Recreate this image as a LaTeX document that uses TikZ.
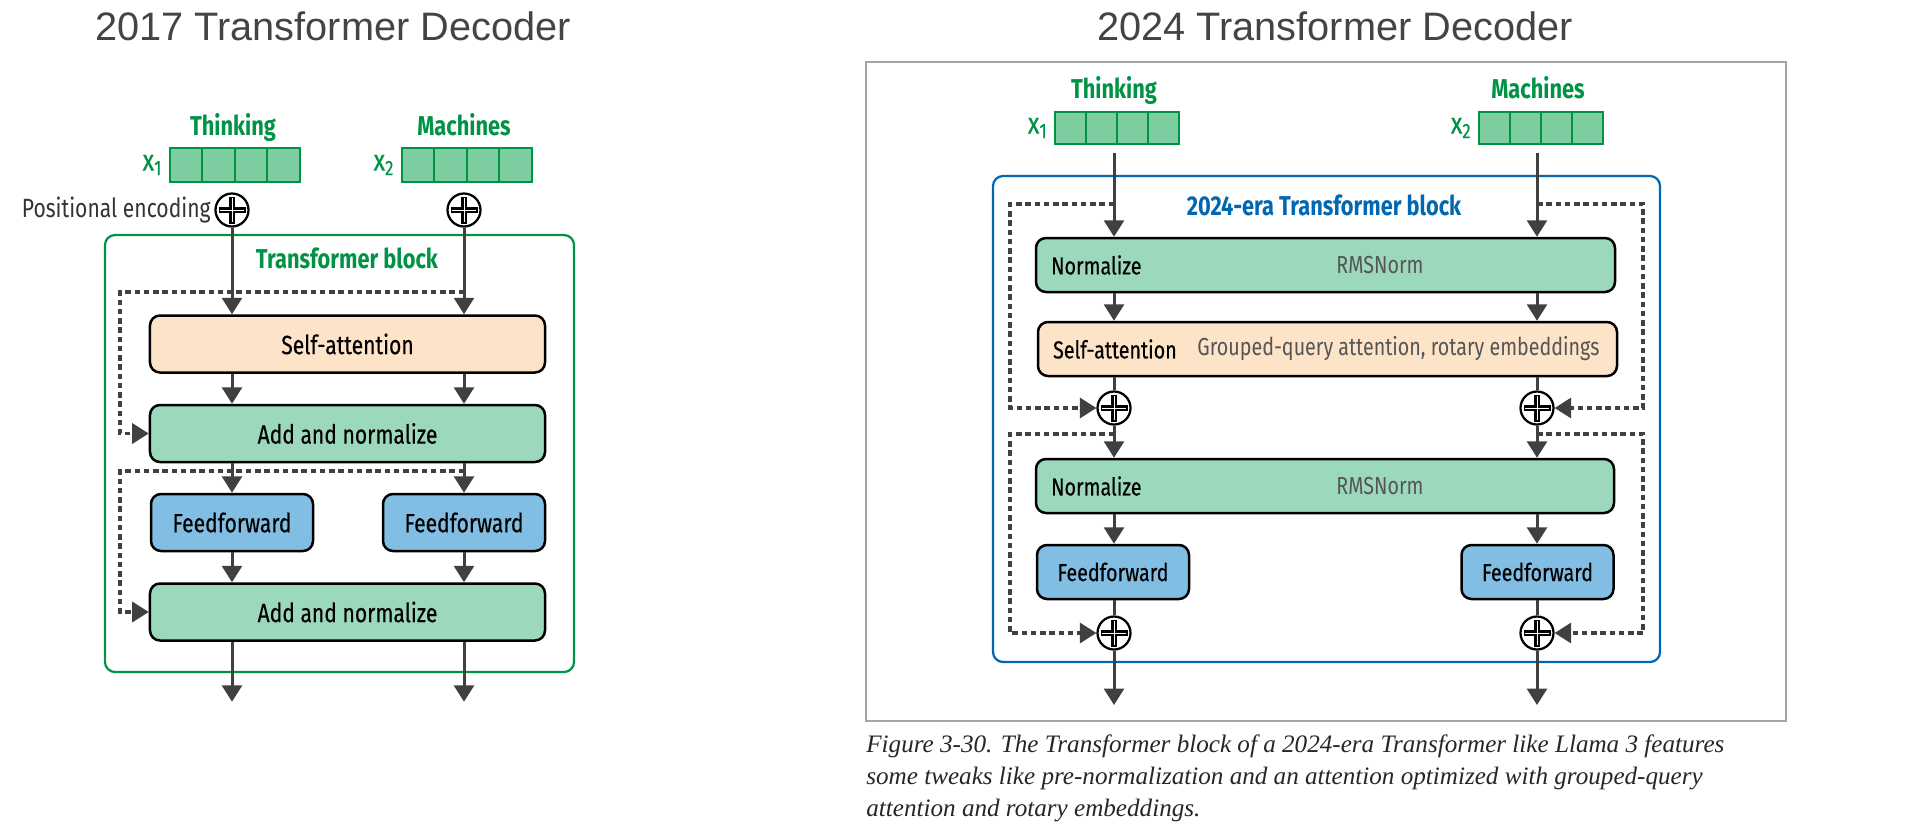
\documentclass[tikz,border=0pt]{standalone}
\usepackage{fontspec}
\usepackage{tikz}
\usetikzlibrary{arrows.meta, positioning, calc}
\newfontfamily\diafont{Fira Sans}[FakeStretch=0.8, FakeBold=0.35]
\newfontfamily\diaplain{Fira Sans}[FakeStretch=0.8]
\newfontfamily\titlefont{Liberation Sans}
\newfontfamily\capfont{Liberation Serif}
\definecolor{ogreen}{RGB}{0,146,69}
\definecolor{vecfill}{RGB}{126,205,160}
\definecolor{normfill}{RGB}{156,217,188}
\definecolor{attnfill}{RGB}{253,227,200}
\definecolor{fffill}{RGB}{130,190,228}
\definecolor{oblue}{RGB}{0,104,178}
\definecolor{arrgray}{RGB}{64,64,64}
\definecolor{titlegray}{RGB}{68,68,68}
\definecolor{subgray}{RGB}{85,85,85}
\definecolor{framegray}{RGB}{165,165,165}
\tikzset{
  box/.style={rectangle, draw=black, line width=0.5mm, rounded corners=2mm,
    minimum height=11.4mm, inner sep=0pt, font=\diafont\fontsize{15}{18}\selectfont},
  normbox/.style={box, fill=normfill},
  attnbox/.style={box, fill=attnfill},
  ffbox/.style={box, fill=fffill},
  boxtext/.style={inner sep=0pt, font=\diafont\fontsize{14}{17}\selectfont},
  subtext/.style={inner sep=0pt, text=subgray, font=\diaplain\fontsize{14}{17}\selectfont},
  cell/.style={rectangle, draw=ogreen, fill=vecfill, line width=0.45mm,
    minimum width=6.5mm, minimum height=6.8mm, inner sep=0pt},
  smallcell/.style={cell, minimum width=6.2mm, minimum height=6.4mm},
  word/.style={anchor=base, inner sep=0pt, text=ogreen,
    font=\diaplain\bfseries\fontsize{15.5}{18}\selectfont},
  xlbl/.style={inner sep=0pt, text=ogreen, font=\diafont\fontsize{17}{20}\selectfont},
  addc/.style={circle, draw=black, fill=white, line width=0.45mm,
    minimum size=6.6mm, inner sep=0pt,
    path picture={
      \draw[line width=1.1mm, black]
        ([xshift=-2.7mm]path picture bounding box.center) -- ([xshift=2.7mm]path picture bounding box.center)
        ([yshift=-2.7mm]path picture bounding box.center) -- ([yshift=2.7mm]path picture bounding box.center);
      \draw[line width=0.2mm, white]
        ([xshift=-2.35mm]path picture bounding box.center) -- ([xshift=2.35mm]path picture bounding box.center)
        ([yshift=-2.35mm]path picture bounding box.center) -- ([yshift=2.35mm]path picture bounding box.center);
    }},
  gblock/.style={rectangle, draw=ogreen, line width=0.45mm, rounded corners=2mm, inner sep=0pt},
  bblock/.style={rectangle, draw=oblue, line width=0.45mm, rounded corners=2mm, inner sep=0pt},
  title/.style={anchor=base, inner sep=0pt, text=titlegray,
    font=\titlefont\fontsize{22.6}{27}\selectfont},
  capt/.style={anchor=base west, inner sep=0pt, text=black!85,
    font=\capfont\itshape\fontsize{14.3}{18}\selectfont},
  arrow/.style={-{Triangle[length=3.3mm,width=4mm]}, line width=0.6mm, color=arrgray},
  line/.style={line width=0.6mm, color=arrgray},
  skip/.style={line width=0.65mm, color=arrgray, dash pattern=on 1.1mm off 0.75mm},
  skiparrow/.style={skip, -{Triangle[length=3.3mm,width=4mm]}}
}
\begin{document}
\begin{tikzpicture}[x=0.2mm, y=-0.2mm]
  \useasboundingbox (0,0) rectangle (1920,832);

  % ---- 2017 decoder ----
  \node[title] (t17) at (333,40) {2017 Transformer Decoder};

  % Inputs
  \foreach \i in {0,...,3} {
    \node[cell] (a\i) at ({186+32.5*\i},165) {};
    \node[cell] (b\i) at ({418+32.5*\i},165) {};
  }
  \node[xlbl, left=1.2mm of a0] (xa) {x\textsubscript{1}};
  \node[xlbl, left=1.2mm of b0] (xb) {x\textsubscript{2}};
  \node[word] (wa) at (233,135) {Thinking};
  \node[word] (wb) at (464,135) {Machines};
  \node[addc] (pa) at (232,210) {};
  \node[addc] (pb) at (464,210) {};
  \node[anchor=base east, inner sep=0pt, text=black!80, font=\diaplain\fontsize{15}{18}\selectfont]
    (pe) at (211,217) {Positional encoding};

  % Block
  \node[gblock, minimum width=93.8mm, minimum height=87.4mm] (blk17) at (339.5,453.5) {};
  \node[word] (bl17) at (347,268) {Transformer block};
  \node[attnbox, minimum width=79mm] (sa) at (347.5,344) {Self-attention};
  \node[normbox, minimum width=79mm] (an1) at (347.5,433.5) {Add and normalize};
  \node[ffbox, minimum width=32.4mm] (ffa) at (232,522.5) {Feedforward};
  \node[ffbox, minimum width=32.4mm] (ffb) at (464,522.5) {Feedforward};
  \node[normbox, minimum width=79mm] (an2) at (347.5,612) {Add and normalize};
  \coordinate (s1) at (120,292);
  \coordinate (s2) at (120,471);

  % Arrows
  \foreach \c/\f in {pa/ffa, pb/ffb} {
    \draw[arrow] (\c) -- (sa.north -| \c);
    \draw[arrow] (sa.south -| \c) -- (an1.north -| \c);
    \draw[arrow] (an1.south -| \c) -- (\f);
    \draw[arrow] (\f) -- (an2.north -| \c);
    \draw[arrow] (an2.south -| \c) -- ++(0,60);
  }
  \draw[skiparrow] (pb |- s1) -- (s1) |- (an1.west);
  \draw[skiparrow] (pb |- s2) -- (s2) |- (an2.west);

  % ---- 2024 decoder ----
  \node[title] (t24) at (1335,40) {2024 Transformer Decoder};
  \draw[framegray, line width=0.3mm] (866,62) rectangle (1786,721);

  % Inputs
  \foreach \i in {0,...,3} {
    \node[smallcell] (c\i) at ({1070.5+31*\i},128) {};
    \node[smallcell] (d\i) at ({1494.5+31*\i},128) {};
  }
  \node[xlbl, left=1.2mm of c0] (xc) {x\textsubscript{1}};
  \node[xlbl, left=1.2mm of d0] (xd) {x\textsubscript{2}};
  \node[word] (wc) at (1114,98) {Thinking};
  \node[word] (wd) at (1538,98) {Machines};
  \coordinate (ca) at (1114,153);
  \coordinate (cb) at (1537,153);

  % Block
  \node[bblock, minimum width=133.4mm, minimum height=97.2mm] (blk24) at (1326.5,419) {};
  \node[word, text=oblue] (bl24) at (1324,215) {2024-era Transformer block};
  \node[normbox, minimum width=115.8mm, minimum height=10.8mm] (n1) at (1325.5,265) {};
  \node[boxtext, anchor=west] (n1l) at ([xshift=3.2mm]n1.west) {Normalize};
  \node[subtext] (n1r) at (1380,265) {RMSNorm};
  \node[attnbox, minimum width=115.8mm, minimum height=10.8mm] (sa2) at (1327.5,349) {};
  \node[boxtext, anchor=west] (sa2l) at ([xshift=3.2mm]sa2.west) {Self-attention};
  \node[subtext] (sa2r) at (1398.5,349) {Grouped-query attention, rotary embeddings};
  \node[addc] (qa1) at (1114,408) {};
  \node[addc] (qb1) at (1537,408) {};
  \node[normbox, minimum width=115.6mm, minimum height=10.8mm] (n2) at (1325,486) {};
  \node[boxtext, anchor=west] (n2l) at ([xshift=3.2mm]n2.west) {Normalize};
  \node[subtext] (n2r) at (1380,486) {RMSNorm};
  \node[ffbox, minimum width=30.4mm, minimum height=10.8mm, font=\diafont\fontsize{14}{17}\selectfont]
    (ffc) at (1113,572) {Feedforward};
  \node[ffbox, minimum width=30.4mm, minimum height=10.8mm, font=\diafont\fontsize{14}{17}\selectfont]
    (ffd) at (1537.5,572) {Feedforward};
  \node[addc] (qa2) at (1114,633) {};
  \node[addc] (qb2) at (1537,633) {};
  \coordinate (k1) at (1010,204);
  \coordinate (k1r) at (1643,204);
  \coordinate (k2) at (1010,434);
  \coordinate (k2r) at (1643,434);

  % Arrows
  \foreach \c/\f/\p/\q in {ca/ffc/qa1/qa2, cb/ffd/qb1/qb2} {
    \draw[arrow] (\c) -- (n1.north -| \c);
    \draw[arrow] (n1.south -| \c) -- (sa2.north -| \c);
    \draw[line] (sa2.south -| \c) -- (\p);
    \draw[arrow] (\p) -- (n2.north -| \c);
    \draw[arrow] (n2.south -| \c) -- (\f.north -| \c);
    \draw[line] (\f.south -| \c) -- (\q);
    \draw[arrow] (\q) -- ++(0,72);
  }
  \draw[skiparrow] (ca |- k1) -- (k1) |- (qa1.west);
  \draw[skiparrow] (cb |- k1r) -- (k1r) |- (qb1.east);
  \draw[skiparrow] (ca |- k2) -- (k2) |- (qa2.west);
  \draw[skiparrow] (cb |- k2r) -- (k2r) |- (qb2.east);

  % Caption
  \node[capt] (cap1) at (866,752) {Figure 3-30. The Transformer block of a 2024-era Transformer like Llama 3 features};
  \node[capt] (cap2) at (866,784) {some tweaks like pre-normalization and an attention optimized with grouped-query};
  \node[capt] (cap3) at (866,816) {attention and rotary embeddings.};
\end{tikzpicture}
\end{document}
